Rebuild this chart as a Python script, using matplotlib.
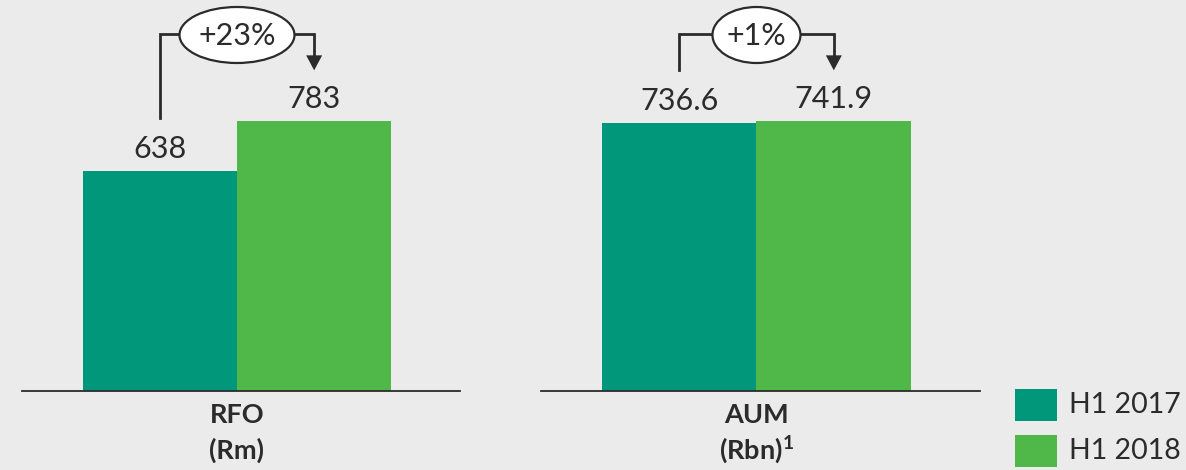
import matplotlib
matplotlib.use("Agg")
import matplotlib.pyplot as plt
from matplotlib.patches import Ellipse, Rectangle, Polygon
from matplotlib.lines import Line2D
from matplotlib.transforms import IdentityTransform

# ---- data ----
panels = ["RFO", "AUM"]
units = ["(Rm)", "(Rbn)$^{\\mathregular{1}}$"]
series_names = ["H1 2017", "H1 2018"]
values_2017 = [638, 736.6]
values_2018 = [783, 741.9]
value_labels_2017 = ["638", "736.6"]
value_labels_2018 = ["783", "741.9"]

C17 = "#00977a"
C18 = "#50b848"
BG = "#ebebeb"
INK = "#2b2b2b"
FONT = ["Lato", "DejaVu Sans"]

plt.rcParams["font.family"] = FONT
plt.rcParams["mathtext.default"] = "regular"

W, H = 1186, 470
fig = plt.figure(figsize=(W / 100, H / 100), dpi=100, facecolor=BG)

axes_rects = [[22 / W, 79 / H, 438 / W, 391 / H], [541 / W, 79 / H, 439 / W, 391 / H]]

for i, rect in enumerate(axes_rects):
    ax = fig.add_axes(rect)
    ax.set_facecolor(BG)
    v0, v1 = values_2017[i], values_2018[i]
    ax.bar([0], [v0], width=1.0, color=C17)
    ax.bar([1], [v1], width=1.0, color=C18)
    ax.set_xlim(-0.893, 1.945)
    ax.set_ylim(0, max(v0, v1) * 1.45)
    for s in ["top", "left", "right"]:
        ax.spines[s].set_visible(False)
    ax.spines["bottom"].set_color(INK)
    ax.spines["bottom"].set_linewidth(1.3)
    ax.set_xticks([])
    ax.set_yticks([])

    # value labels
    ax.annotate(value_labels_2017[i], (0, v0), xytext=(0, 22), textcoords="offset pixels",
                ha="center", va="center", fontsize=22, color=INK)
    ax.annotate(value_labels_2018[i], (1, v1), xytext=(0, 22), textcoords="offset pixels",
                ha="center", va="center", fontsize=22, color=INK)

    # category labels
    ax.annotate(panels[i], (0.5, 0), xytext=(0, -24), textcoords="offset pixels",
                ha="center", va="center", fontsize=19.5, fontweight="bold", color=INK)
    ax.annotate(units[i], (0.5, 0), xytext=(0, -59), textcoords="offset pixels",
                ha="center", va="center", fontsize=19.5, fontweight="bold", color=INK)

    # bracket annotation (pixel space)
    fig.canvas.draw()
    p0 = ax.transData.transform((0, v0))
    p1 = ax.transData.transform((1, v1))
    pm = ax.transData.transform((0.5, 0))
    top = ax.transAxes.transform((0, 1))[1]
    by = top - 34
    lw = 2.0
    fig.add_artist(Line2D([p0[0], p0[0], p1[0], p1[0]],
                          [p0[1] + 53, by, by, p1[1] + 64],
                          transform=IdentityTransform(), color=INK, lw=lw,
                          solid_joinstyle="miter", zorder=3))
    fig.add_artist(Polygon([[p1[0] - 8, p1[1] + 66], [p1[0] + 8, p1[1] + 66], [p1[0], p1[1] + 51]],
                           closed=True, transform=IdentityTransform(), facecolor=INK,
                           edgecolor="none", zorder=3))
    pct = round((v1 / v0 - 1) * 100)
    ew = 115 if i == 0 else 88
    fig.add_artist(Ellipse((pm[0], top - 35), ew, 56, transform=IdentityTransform(),
                           facecolor="white", edgecolor=INK, lw=1.6, zorder=4))
    fig.text(pm[0] / W, (top - 36) / H, f"+{pct}%", ha="center", va="center",
             fontsize=22, color=INK, zorder=5)

# legend
for j, (name, col) in enumerate(zip(series_names, [C17, C18])):
    yb = [49, 3][j]
    fig.add_artist(Rectangle((1015 / W, yb / H), 42 / W, 32 / H, transform=fig.transFigure,
                             facecolor=col, edgecolor="none"))
    fig.text(1069 / W, (yb + 16) / H, name, ha="left", va="center", fontsize=20.5, color=INK)

fig.savefig("out.png", dpi=100, facecolor=BG)
